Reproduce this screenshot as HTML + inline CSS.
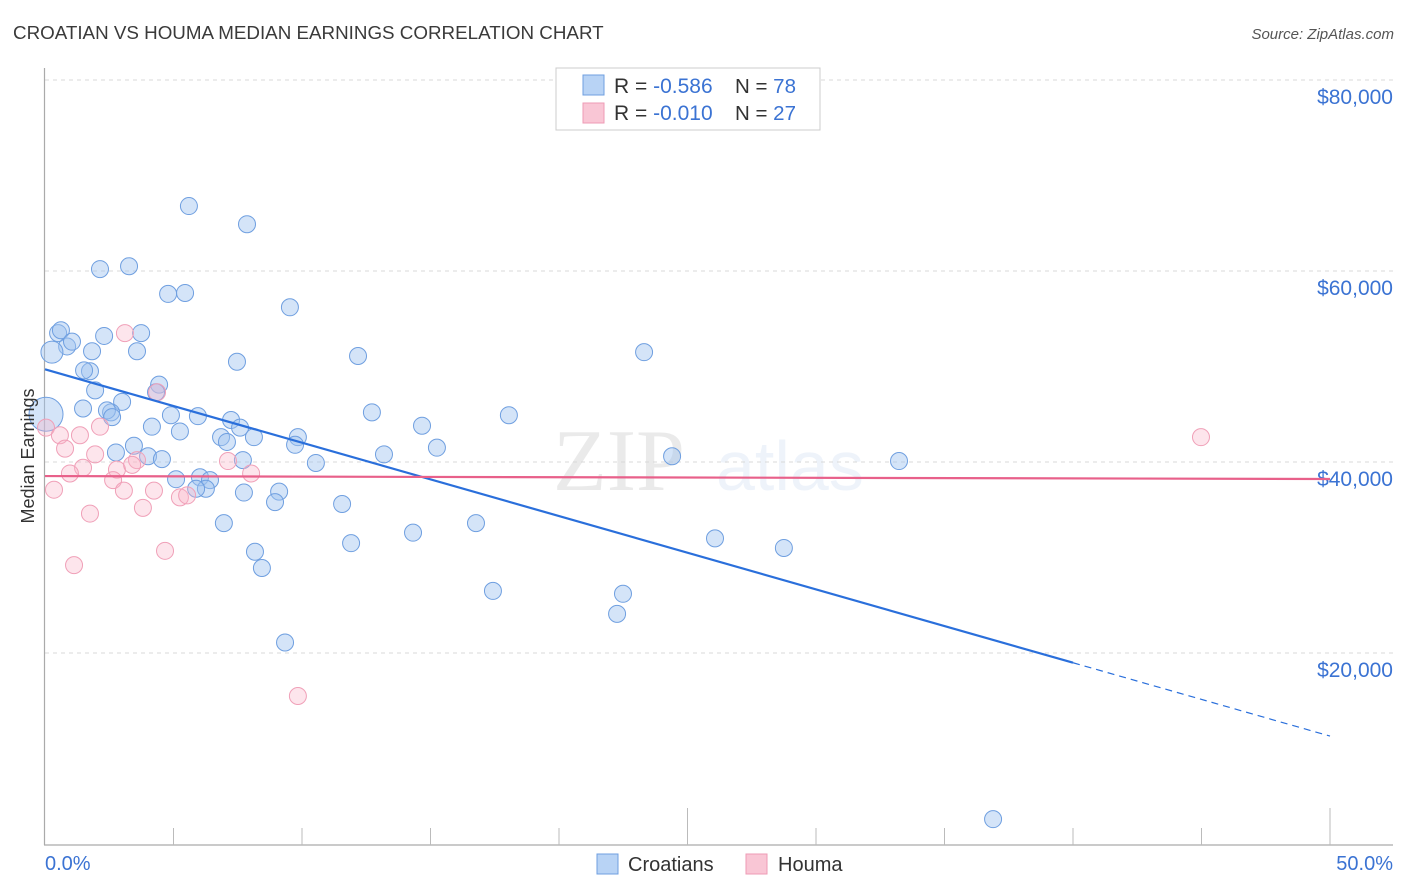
<!DOCTYPE html>
<html><head><meta charset="utf-8"><style>
body{margin:0;background:#fff;font-family:"Liberation Sans",sans-serif;}
svg{display:block}
</style></head><body>
<svg id="chart" width="1406" height="892" viewBox="0 0 1406 892" xmlns="http://www.w3.org/2000/svg">
<text x="13" y="39" font-size="18.8" fill="#3a3a3a">CROATIAN VS HOUMA MEDIAN EARNINGS CORRELATION CHART</text>
<text x="1394" y="39" font-size="15" fill="#555" font-style="italic" text-anchor="end">Source: ZipAtlas.com</text>
<g opacity="0.13">
<text x="553" y="490" font-size="88" font-family="Liberation Serif, serif" fill="#666">ZIP</text>
<text x="716" y="490" font-size="70" fill="#7fa6e0">atlas</text>
</g>
<g id="grid"></g>
<g id="axes"></g>
<g id="points-blue"></g>
<g id="points-pink"></g>
<g id="trends"></g>
<g>
<rect x="556" y="68" width="264" height="62" fill="#fff" stroke="#ccc"/>
<rect x="583" y="75" width="21" height="20" fill="#b8d3f5" stroke="#6f9fe0"/>
<rect x="583" y="103" width="21" height="20" fill="#f9c6d5" stroke="#ee9bb5"/>
<text x="614" y="93" font-size="21" fill="#333">R = <tspan fill="#3b73d3">-0.586</tspan></text>
<text x="735" y="93" font-size="20.5" fill="#333">N = <tspan fill="#3b73d3">78</tspan></text>
<text x="614" y="120" font-size="21" fill="#333">R = <tspan fill="#3b73d3">-0.010</tspan></text>
<text x="735" y="120" font-size="20.5" fill="#333">N = <tspan fill="#3b73d3">27</tspan></text>
</g>
<g>
<rect x="597" y="854" width="21" height="20" fill="#b8d3f5" stroke="#6f9fe0"/>
<text x="628" y="871" font-size="20" fill="#333">Croatians</text>
<rect x="746" y="854" width="21" height="20" fill="#f9c6d5" stroke="#ee9bb5"/>
<text x="778" y="871" font-size="20" fill="#333">Houma</text>
</g>
<text x="34" y="456" font-size="18" fill="#333" text-anchor="middle" transform="rotate(-90 34 456)">Median Earnings</text>
<text x="45" y="870" font-size="20" fill="#3b73d3">0.0%</text>
<text x="1393" y="870" font-size="20" fill="#3b73d3" text-anchor="end">50.0%</text>
</svg>
<script>
const yTicks=[20000,40000,60000,80000];
const yTickLabels=["$20,000","$40,000","$60,000","$80,000"];
const croX=[5.60,7.86,2.14,3.27,4.79,5.45,9.53,0.51,0.62,0.86,1.05,1.83,2.30,3.74,3.58,0.27,1.75,1.52,7.47,12.18,23.31,1.95,4.44,4.32,3.00,1.48,2.57,2.41,2.61,4.90,5.95,7.24,7.59,4.16,5.25,0.04,12.72,18.05,14.67,6.85,8.13,7.08,9.84,9.73,3.46,2.76,4.01,4.55,7.70,13.19,15.25,10.54,24.40,33.23,5.10,6.03,6.42,6.26,5.88,7.74,9.11,8.95,11.56,6.96,16.77,14.32,11.91,26.07,28.75,8.17,8.44,17.43,22.49,22.26,9.34,36.89];
const croY=[66800,64900,60200,60500,57600,57700,56200,53500,53800,52100,52600,51600,53200,53500,51600,51500,49500,49600,50500,51100,51500,47500,48100,47300,46300,45600,45200,45400,44700,44900,44800,44400,43600,43700,43200,45000,45200,44900,43800,42600,42600,42100,42600,41800,41700,41000,40600,40300,40200,40800,41500,39900,40600,40100,38200,38400,38100,37200,37200,36800,36900,35800,35600,33600,33600,32600,31500,32000,31000,30600,28900,26500,26200,24100,21100,2600];
const croR=[8.5,8.5,8.5,8.5,8.5,8.5,8.5,8.5,8.5,8.5,8.5,8.5,8.5,8.5,8.5,11,8.5,8.5,8.5,8.5,8.5,8.5,8.5,8.5,8.5,8.5,8.5,8.5,8.5,8.5,8.5,8.5,8.5,8.5,8.5,17,8.5,8.5,8.5,8.5,8.5,8.5,8.5,8.5,8.5,8.5,8.5,8.5,8.5,8.5,8.5,8.5,8.5,8.5,8.5,8.5,8.5,8.5,8.5,8.5,8.5,8.5,8.5,8.5,8.5,8.5,8.5,8.5,8.5,8.5,8.5,8.5,8.5,8.5,8.5,8.5];
const houX=[3.11,4.36,0.04,0.58,1.36,2.14,0.78,1.95,1.48,0.97,2.80,2.65,3.58,3.39,7.12,8.02,0.35,3.07,4.24,5.25,5.53,1.75,3.81,4.67,1.13,9.84,44.98];
const houY=[53500,47300,43600,42800,42800,43700,41400,40800,39400,38800,39200,38100,40200,39700,40100,38800,37100,37000,37000,36300,36500,34600,35200,30700,29200,15500,42600];
const croTrend=[49700,11300];
const houTrend=[38530,38220];
const NS="http://www.w3.org/2000/svg";
const X0=45,X1=1330,Y0=844,PXPERK=191/20000;
const sx=v=>X0+(v/50)*(X1-X0);
const sy=v=>Y0-v*PXPERK;
function mk(tag,attrs,parent){const e=document.createElementNS(NS,tag);for(const k in attrs)e.setAttribute(k,attrs[k]);parent.appendChild(e);return e;}
const grid=document.getElementById('grid');
yTicks.forEach((t,i)=>{
  const l=mk('line',{x1:45,x2:1393,y1:sy(t),y2:sy(t),stroke:'#d8d8d8','stroke-dasharray':'4,4'},grid);
  
  
  const tx=mk('text',{x:1393,y:sy(t)+24,'font-size':21,fill:'#3b73d3','text-anchor':'end'},grid);
  tx.textContent=yTickLabels[i];
  
  
});
const axes=document.getElementById('axes');
const ya=mk('line',{x1:44.5,x2:44.5,y1:68,y2:845,stroke:'#aaa','stroke-width':1.2},axes);


const xa=mk('line',{x1:44,x2:1393,y1:845,y2:845,stroke:'#aaa','stroke-width':1.2},axes);


for(let i=1;i<=10;i++){
  const x=sx(i*5);
  const tk=mk('line',{x1:x,x2:x,y1:(i==5||i==10)?808:828,y2:845,stroke:'#bbb'},axes);
  
  
}
const pb=document.getElementById('points-blue');
croX.forEach((v,i)=>{
  const c=mk('circle',{cx:sx(v),cy:sy(croY[i]),r:croR[i],fill:'rgba(160,196,240,0.45)',stroke:'#6f9fe0','stroke-width':1},pb);
  
  
});
const pp=document.getElementById('points-pink');
houX.forEach((v,i)=>{
  const c=mk('circle',{cx:sx(v),cy:sy(houY[i]),r:8.5,fill:'rgba(248,180,200,0.35)',stroke:'#f0a0b8','stroke-width':1},pp);
  
  
});
const tr=document.getElementById('trends');
const yAt=(a,x)=>a[0]+(a[1]-a[0])*x/50;
const b1=mk('line',{x1:sx(0),y1:sy(croTrend[0]),x2:sx(40),y2:sy(yAt(croTrend,40)),stroke:'#2a6fdb','stroke-width':2.2},tr);


const b2=mk('line',{x1:sx(40),y1:sy(yAt(croTrend,40)),x2:sx(50),y2:sy(croTrend[1]),stroke:'#2a6fdb','stroke-width':1.2,'stroke-dasharray':'7,5'},tr);


const p1=mk('line',{x1:sx(0),y1:sy(houTrend[0]),x2:sx(50),y2:sy(houTrend[1]),stroke:'#e8608a','stroke-width':2.2},tr);


</script>
</body></html>
